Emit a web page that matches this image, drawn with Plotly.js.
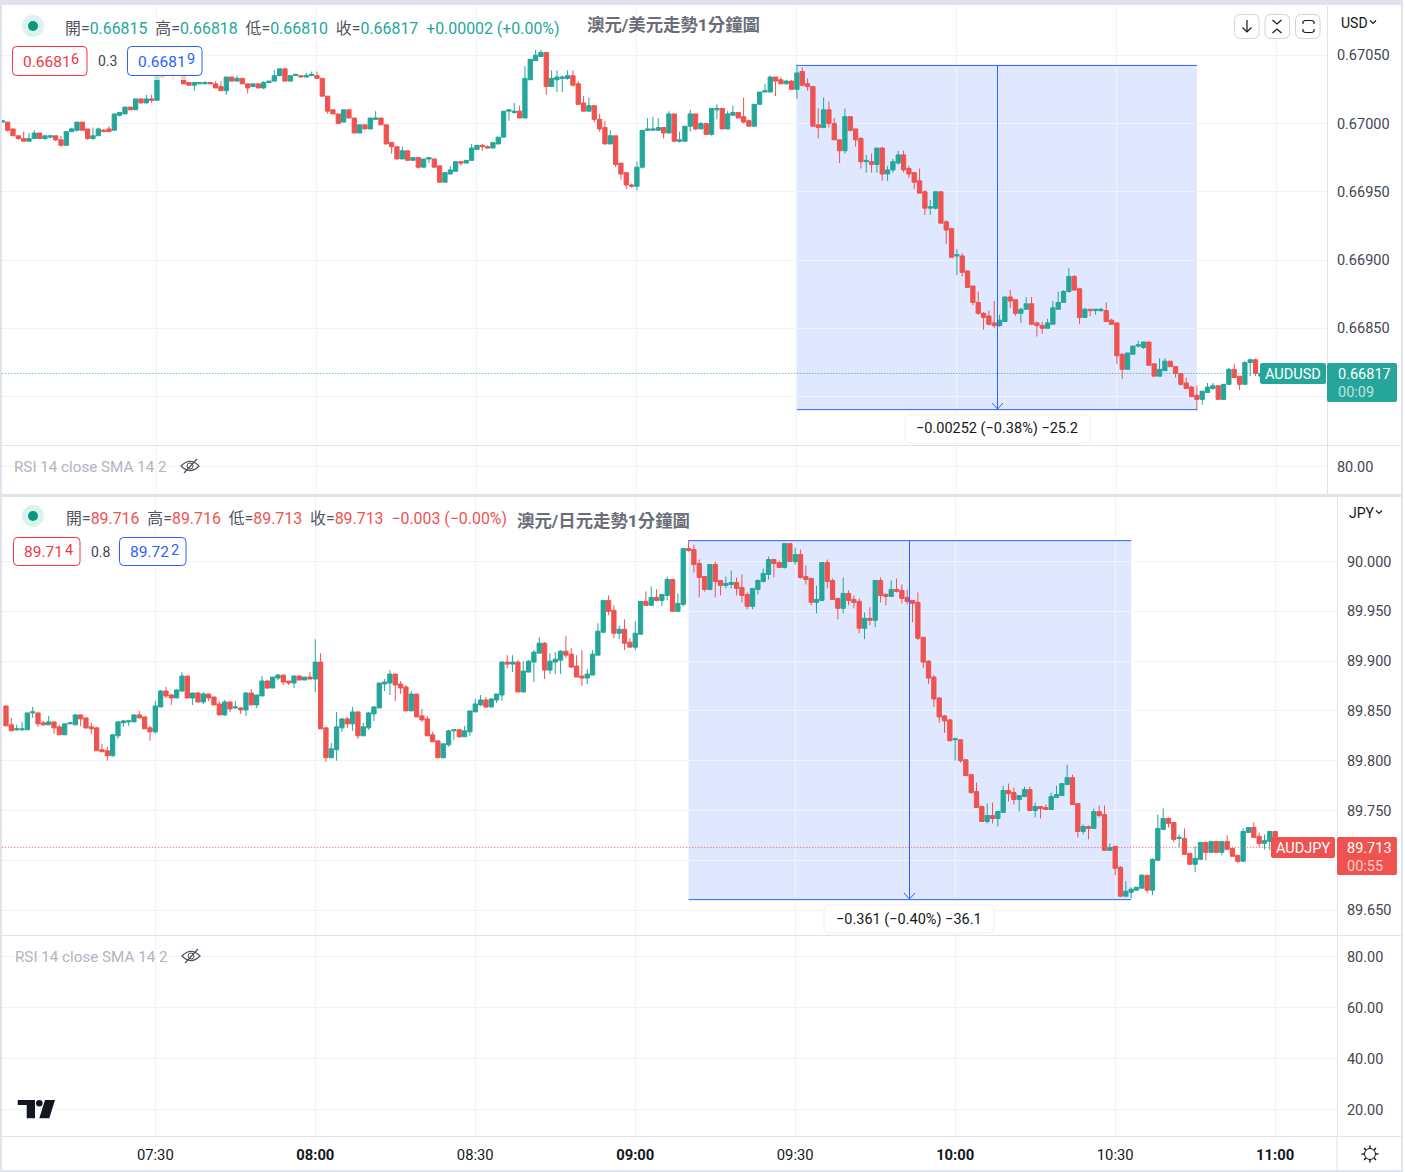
<!DOCTYPE html>
<html>
<head>
<meta charset="utf-8">
<script src="https://cdn.plot.ly/plotly-3.0.1.min.js"></script>
<style>
  html, body { margin: 0; padding: 0; background: #fff; }
  #chart { width: 1405px; height: 1172px; }
</style>
</head>
<body>
<div id="chart"></div>
<script>
// AUD/USD 1 min candles, 07:01 onwards. Values are points above 0.66000
const audusdStart = 421;
const audusdOpen = [
  1001,1001,996,991,989,987,989,993,989,990,
  991,988,984,994,995,1001,996,989,991,995,
  996,995,1006,1007,1012,1010,1018,1015,1018,1017,
  1036,1036,1036,1036,1036,1030,1028,1029,1029,1030,
  1029,1027,1024,1034,1031,1033,1029,1027,1029,1026,
  1030,1031,1035,1040,1031,1035,1035,1034,1035,1035,
  1033,1020,1010,1007,1001,1010,1004,993,999,996,
  1003,1004,999,986,983,974,980,973,975,968,
  974,974,969,957,963,965,972,971,973,981,
  984,983,982,985,990,1009,1008,1009,1004,1032,
  1046,1049,1052,1027,1032,1033,1033,1035,1029,1015,
  1009,1013,1003,997,985,991,971,964,955,954,
  968,995,995,995,997,993,1007,987,987,998,
  1007,996,1000,992,1010,1011,996,1006,1008,1005,
  1002,998,1014,1023,1023,1034,1032,1029,1031,1025,
  1038,1029,1027,999,997,1010,1000,988,980,1005,
  996,989,972,972,970,982,963,966,971,977,
  967,964,958,950,938,938,950,928,923,903,
  903,892,881,869,861,859,854,852,855,873,
  871,861,864,868,854,852,850,853,864,869,
  877,888,879,858,864,863,863,863,856,854,
  831,820,831,837,836,840,824,815,819,826,
  822,817,810,807,801,798,803,806,808,798,
  809,820,815,809,825,827,815];
const audusdClose = [
  1002,995,991,989,987,989,993,989,991,991,
  988,984,994,996,1001,995,989,991,996,994,
  994,1007,1008,1012,1010,1018,1015,1018,1017,1035,
  1034,1040,1035,1035,1029,1028,1030,1030,1030,1029,
  1026,1024,1034,1031,1033,1029,1026,1029,1026,1030,
  1031,1035,1040,1031,1035,1036,1034,1035,1036,1033,
  1020,1009,1007,1000,1010,1004,993,999,996,1004,
  1004,999,985,983,974,980,973,975,968,974,
  975,968,957,964,966,972,971,973,982,984,
  983,982,986,990,1009,1010,1009,1004,1033,1047,
  1050,1052,1027,1033,1034,1034,1035,1028,1014,1009,
  1013,1003,996,985,991,970,963,955,954,968,
  995,996,996,997,993,1007,987,988,998,1007,
  996,1000,992,1011,1011,996,1007,1008,1004,1001,
  998,1014,1023,1024,1034,1031,1029,1031,1025,1037,
  1028,1027,998,997,1010,1000,988,980,1005,995,
  988,972,973,970,982,963,966,972,977,966,
  963,957,949,938,939,950,927,922,902,904,
  891,880,869,861,858,853,852,856,873,870,
  861,864,868,853,852,850,854,865,869,877,
  888,878,858,864,863,864,864,855,853,830,
  820,832,837,838,840,823,815,820,826,822,
  817,809,806,800,798,804,807,808,798,809,
  820,814,809,825,827,817,817];
const audusdHigh = [
  1002,1001,996,991,994,993,995,993,991,991,
  991,991,994,997,1001,1001,996,997,997,996,
  998,1007,1008,1012,1012,1018,1018,1021,1021,1037,
  1040,1041,1040,1038,1036,1030,1030,1030,1031,1030,
  1031,1031,1034,1034,1035,1033,1029,1029,1029,1031,
  1031,1039,1040,1040,1035,1036,1035,1037,1038,1038,
  1033,1020,1010,1007,1010,1010,1004,999,999,1004,
  1009,1004,999,986,983,983,980,975,975,974,
  975,974,969,964,969,972,972,973,985,984,
  985,984,986,990,1009,1010,1015,1013,1042,1047,
  1054,1054,1052,1039,1039,1035,1039,1039,1031,1020,
  1019,1013,1007,1002,995,991,971,964,956,972,
  995,1004,1005,1004,997,1009,1007,994,998,1010,
  1007,1001,1000,1011,1014,1011,1009,1013,1008,1019,
  1003,1014,1023,1029,1035,1034,1034,1032,1032,1043,
  1041,1033,1027,1011,1019,1016,1004,988,1011,1005,
  996,990,977,978,982,983,969,974,980,980,
  969,964,967,951,944,950,950,929,923,908,
  905,892,881,877,862,863,870,860,873,878,
  871,865,873,873,855,855,857,870,877,878,
  894,889,879,865,864,864,865,869,857,854,
  832,832,837,841,840,840,824,828,828,826,
  822,817,814,808,808,804,810,810,808,809,
  821,824,815,826,828,828,818];
const audusdLow = [
  1001,994,991,988,987,987,989,989,988,989,
  987,983,984,994,994,995,988,988,991,994,
  994,995,1005,1007,1010,1010,1015,1015,1015,1017,
  1033,1035,1032,1035,1029,1028,1024,1029,1029,1029,
  1026,1024,1021,1031,1031,1029,1022,1027,1026,1025,
  1030,1031,1035,1031,1031,1035,1034,1034,1035,1033,
  1020,1007,1007,1000,1001,1004,993,993,996,996,
  1003,999,985,978,974,974,973,973,967,968,
  971,968,957,957,963,965,969,971,973,981,
  980,982,982,985,990,1002,1007,1004,1004,1032,
  1046,1049,1021,1027,1023,1023,1032,1027,1014,1009,
  1009,1001,994,985,985,968,959,952,953,951,
  967,995,995,995,989,993,987,986,987,994,
  995,996,992,991,1003,996,996,1006,1004,1000,
  998,998,1014,1023,1023,1020,1029,1029,1025,1018,
  1027,1024,998,989,997,997,988,971,978,994,
  983,967,964,964,964,958,958,964,970,964,
  960,952,949,933,933,937,927,912,902,889,
  888,880,867,860,849,852,850,851,855,865,
  859,854,864,853,844,846,850,853,864,869,
  876,878,853,858,859,860,862,855,853,824,
  813,820,831,836,835,823,815,815,819,822,
  814,808,806,800,790,794,803,805,798,798,
  809,814,805,809,815,815,810];

// AUD/JPY 1 min candles, 07:02 onwards. Values are thousandths above 89
const audjpyStart = 422;
const audjpyOpen = [
  855,836,831,831,831,848,848,838,836,839,
  834,826,837,836,846,843,834,833,811,810,
  805,825,838,839,839,846,844,833,829,854,
  870,866,863,870,885,863,868,859,867,864,
  857,846,859,853,853,851,868,856,865,880,
  873,883,886,880,878,885,881,884,882,899,
  833,803,811,833,842,837,849,825,833,847,
  853,877,878,887,877,874,850,867,845,842,
  826,820,803,816,830,831,824,829,849,856,
  861,854,861,866,899,897,899,869,889,899,
  908,918,891,899,901,910,907,895,885,883,
  886,906,929,961,951,928,932,919,914,927,
  960,956,964,961,966,982,950,957,1013,1012,
  998,985,972,997,981,976,977,979,974,967,
  955,972,980,987,1002,999,994,1018,1000,1007,
  985,983,959,961,999,981,963,953,968,962,
  960,933,943,941,981,967,965,972,971,964,
  961,959,924,900,884,863,845,841,821,821,
  801,786,769,754,739,745,742,748,770,768,
  761,764,771,750,754,753,751,763,765,776,
  783,757,729,734,732,749,746,710,714,693,
  664,668,670,672,685,670,700,731,742,738,
  722,722,707,696,701,718,708,719,708,719,
  712,705,699,728,733,724,717,719,729,716];
const audjpyClose = [
  835,830,832,832,848,849,837,836,839,833,
  826,837,838,846,842,833,832,810,809,805,
  826,839,840,840,846,843,832,829,855,870,
  865,863,871,885,863,868,859,867,863,856,
  846,859,852,854,851,868,856,866,880,873,
  884,886,879,878,885,881,884,882,899,832,
  803,812,834,842,837,849,825,834,848,854,
  878,879,887,876,873,850,867,844,841,825,
  819,803,817,830,831,824,830,850,857,861,
  854,862,867,899,897,899,869,890,900,909,
  918,891,900,902,910,906,894,884,883,887,
  907,930,961,950,928,932,918,914,928,960,
  956,964,961,967,982,950,958,1013,1011,997,
  984,972,997,980,976,978,979,973,966,955,
  973,981,988,1002,998,994,1018,1000,1007,984,
  982,959,962,999,980,962,953,968,961,959,
  933,943,941,981,966,965,972,970,963,960,
  958,923,899,883,862,844,840,820,822,800,
  785,768,753,739,745,742,749,770,767,761,
  765,771,750,754,752,751,764,766,777,783,
  756,729,734,732,749,745,710,713,692,664,
  669,671,673,685,670,701,732,742,737,721,
  723,706,696,702,718,708,719,708,719,711,
  704,699,729,733,723,717,720,729,721,713];
const audjpyHigh = [
  855,843,836,839,848,854,848,840,845,839,
  836,837,838,847,846,843,838,834,817,814,
  827,840,841,841,846,850,844,835,860,871,
  874,867,872,889,885,868,869,869,867,864,
  860,861,859,860,854,869,872,866,885,881,
  884,887,886,880,886,886,884,889,922,908,
  833,818,849,843,844,854,849,838,849,855,
  878,882,891,887,880,876,870,867,852,845,
  829,820,817,831,831,832,835,850,862,866,
  864,863,867,900,906,906,901,900,901,911,
  924,919,908,909,911,925,913,906,911,892,
  911,938,961,966,956,936,942,923,940,960,
  970,975,972,967,985,982,968,1013,1021,1017,
  1002,985,997,1000,981,985,991,984,987,969,
  973,982,993,1005,1003,1001,1018,1018,1014,1012,
  996,983,976,999,1002,983,963,984,971,966,
  963,949,954,981,984,968,981,983,977,972,
  961,969,924,901,886,864,846,842,823,821,
  801,787,778,755,757,758,750,775,777,773,
  765,774,774,758,754,756,768,775,777,796,
  786,757,736,735,752,755,755,717,714,694,
  679,673,673,686,685,702,746,752,743,738,
  726,732,707,714,718,718,719,719,719,725,
  712,705,732,733,738,728,726,729,729,716];
const audjpyLow = [
  835,830,830,830,831,843,834,835,836,827,
  826,826,837,836,835,832,827,810,809,800,
  804,822,834,835,839,843,832,820,827,854,
  863,856,863,869,863,856,859,857,860,856,
  846,845,849,852,847,845,856,853,865,872,
  873,881,876,876,873,881,881,882,869,832,
  799,803,800,829,833,830,822,825,831,840,
  853,870,866,860,867,850,850,844,839,825,
  819,803,803,814,821,823,824,825,849,855,
  853,854,858,860,893,889,869,869,889,879,
  908,882,887,887,887,903,893,884,875,877,
  886,906,928,946,923,922,911,914,911,927,
  956,956,960,955,961,950,950,955,1010,989,
  964,970,971,964,966,973,973,966,959,952,
  952,967,979,982,984,994,993,1000,997,983,
  977,956,948,961,973,962,942,948,956,953,
  928,922,936,934,959,956,965,969,958,957,
  939,921,893,877,854,838,828,820,800,798,
  785,767,753,739,737,737,734,748,759,756,
  749,764,750,743,742,751,751,763,765,776,
  756,723,726,721,732,743,710,710,685,663,
  664,662,670,672,667,665,700,731,733,718,
  713,706,695,688,701,700,708,708,705,711,
  704,697,699,728,723,713,711,710,721,713];

// axis ticks
const timeTicks = [450, 480, 510, 540, 570, 600, 630, 660];
const timeLabels = ['07:30', '<b>08:00</b>', '08:30', '<b>09:00</b>', '09:30', '<b>10:00</b>', '10:30', '<b>11:00</b>'];
const audusdTicks = [0.6705, 0.67, 0.6695, 0.669, 0.6685];
const audusdTickText = ['0.67050', '0.67000', '0.66950', '0.66900', '0.66850'];
const audusdHiddenTicks = [0.668];   // label sits behind the price tag
const audjpyTicks = [90, 89.95, 89.9, 89.85, 89.8, 89.75, 89.65];
const audjpyTickText = ['90.000', '89.950', '89.900', '89.850', '89.800', '89.750', '89.650'];
const audjpyHiddenTicks = [89.7];
const rsiTopTicks = [80];
const rsiBottomTicks = [80, 60, 40, 20];

// measure tools and last prices
const usdMeasure = { t0: 570, t1: 645, tm: 607.61, high: 0.670425, low: 0.667905, last: 0.66817 };
const jpyMeasure = { t0: 550, t1: 633, tm: 591.43, high: 90.021, low: 89.6605, last: 89.713 };

const W = 1405, H = 1172;
const GREEN = '#26a69a', RED = '#ef5350', BLUE = '#2962ff', FRAME = '#e0e3eb', GRID = '#f0f3fa';
const FONT = 'Roboto, "Noto Sans CJK TC", sans-serif';
const X = (p) => p / W;
const Y = (p) => 1 - p / H;
const pt = (x, y) => `${X(x)} ${Y(y)}`;

function fillRect(x0, y0, x1, y1, color) {
  return { type: 'rect', xref: 'paper', yref: 'paper', x0: X(x0), x1: X(x1), y0: Y(y0), y1: Y(y1),
    fillcolor: color, line: { width: 0 }, layer: 'above' };
}
function roundBox(x0, y0, x1, y1, r, fill, stroke, width) {
  const path = `M${pt(x0 + r, y0)} L${pt(x1 - r, y0)} Q${pt(x1, y0)} ${pt(x1, y0 + r)} L${pt(x1, y1 - r)} Q${pt(x1, y1)} ${pt(x1 - r, y1)} ` +
    `L${pt(x0 + r, y1)} Q${pt(x0, y1)} ${pt(x0, y1 - r)} L${pt(x0, y0 + r)} Q${pt(x0, y0)} ${pt(x0 + r, y0)} Z`;
  return { type: 'path', xref: 'paper', yref: 'paper', path, fillcolor: fill,
    line: { color: stroke || fill, width: stroke ? (width || 1) : 0 }, layer: 'above' };
}
function strokePath(points, color, width) {
  const path = points.map((p, i) => (i ? 'L' : 'M') + pt(p[0], p[1])).join(' ');
  return { type: 'path', xref: 'paper', yref: 'paper', path, line: { color, width: width || 1 }, layer: 'above' };
}
function circle(cx, cy, r, fill, stroke) {
  return { type: 'circle', xref: 'paper', yref: 'paper', x0: X(cx - r), x1: X(cx + r), y0: Y(cy + r), y1: Y(cy - r),
    fillcolor: fill, line: { color: stroke || fill, width: stroke ? 1 : 0 }, layer: 'above' };
}
function label(x, y, text, size, color, anchor) {
  return { xref: 'paper', yref: 'paper', x: X(x), y: Y(y), text, showarrow: false, borderpad: 0,
    xanchor: anchor || 'left', yanchor: 'middle', font: { family: FONT, size, color } };
}
const tint = (c, s) => `<span style="color:${c}">${s}</span>`;

function legendLine(x, y, vals, color) {
  const gap = '\u00a0\u00a0';
  const names = ['開', '高', '低', '收'];
  const parts = names.map((n, i) => `${n}=${tint(color, vals[i])}`).join(gap);
  return label(x, y, parts + gap + tint(color, vals[4]), 15.9, '#50535e');
}

function measureShapes(xa, ya, m) {
  const lineOf = (x0, y0, x1, y1) => ({ type: 'line', xref: xa, yref: ya, x0, x1, y0, y1,
    line: { color: BLUE, width: 1 }, layer: 'above' });
  return [
    { type: 'rect', xref: xa, yref: ya, x0: m.t0, x1: m.t1, y0: m.low, y1: m.high,
      fillcolor: 'rgba(41,98,255,0.15)', line: { width: 0 }, layer: 'below' },
    lineOf(m.t0, m.high, m.t1, m.high),
    lineOf(m.t0, m.low, m.t1, m.low),
    lineOf(m.tm, m.low, m.tm, m.high),
  ];
}
function lastLine(xa, ya, t0, t1, price, color) {
  return { type: 'line', xref: xa, yref: ya, x0: t0, x1: t1, y0: price, y1: price,
    line: { color, width: 1, dash: '1px,2px' }, layer: 'above' };
}
function eyeOff(cx, cy) {
  const c = '#50535e';
  return [
    { type: 'path', xref: 'paper', yref: 'paper', layer: 'above', line: { color: c, width: 1.2 },
      path: `M${pt(cx - 9, cy)} Q${pt(cx, cy - 9)} ${pt(cx + 9, cy)} Q${pt(cx, cy + 9)} ${pt(cx - 9, cy)} Z` },
    circle(cx, cy, 3, 'rgba(255,255,255,0)', c),
    strokePath([[cx - 6, cy + 7], [cx + 7, cy - 7]], c, 1.2),
  ];
}
function gearIcon(cx, cy) {
  const c = '#131722';
  const rays = [[1, 0], [0.7, 0.7], [0, 1], [-0.7, 0.7], [-1, 0], [-0.7, -0.7], [0, -1], [0.7, -0.7]];
  return [circle(cx, cy, 5.5, 'rgba(255,255,255,0)', c)].concat(
    rays.map((r) => strokePath([[cx + r[0] * 5.5, cy + r[1] * 5.5], [cx + r[0] * 8.5, cy + r[1] * 8.5]], c, 1.4)));
}
function tvLogo() {
  const c = '#131722';
  const solid = (points) => ({ type: 'path', xref: 'paper', yref: 'paper', layer: 'above', fillcolor: c, line: { width: 0 },
    path: points.map((p, i) => (i ? 'L' : 'M') + pt(p[0], p[1])).join(' ') + ' Z' });
  return [
    solid([[17.7, 1100], [35, 1100], [35, 1118.3], [26.7, 1118.3], [26.7, 1105], [17.7, 1105]]),
    circle(39.3, 1103.3, 3.3, c),
    solid([[45, 1100], [55, 1100], [49.3, 1118.3], [39.3, 1118.3]]),
  ];
}
function topButtons() {
  const c = '#131722', b = '#d1d4dc';
  return [
    roundBox(1234.5, 14.5, 1259, 38.5, 6, '#fff', b),
    roundBox(1265, 14.5, 1289.5, 38.5, 6, '#fff', b),
    roundBox(1295.5, 14.5, 1320, 38.5, 6, '#fff', b),
    strokePath([[1247, 20], [1247, 32]], c, 1.2),
    strokePath([[1242.5, 27.5], [1247, 32], [1251.5, 27.5]], c, 1.2),
    strokePath([[1272.5, 20], [1277, 24], [1281.5, 20]], c, 1.2),
    strokePath([[1272.5, 33], [1277, 29], [1281.5, 33]], c, 1.2),
    strokePath([[1303, 24], [1303, 21.5], [1305, 20.5], [1312, 20.5], [1314, 21.5], [1314, 24]], c, 1.2),
    strokePath([[1303, 29], [1303, 31.5], [1305, 32.5], [1312, 32.5], [1314, 31.5], [1314, 29]], c, 1.2),
  ];
}
function chevron(x, y) {
  return strokePath([[x - 3, y - 1.5], [x, y + 1.5], [x + 3, y - 1.5]], '#131722', 1.1);
}
function candles(start, o, h, l, c, base, scale, xa, ya) {
  return {
    type: 'candlestick', xaxis: xa, yaxis: ya, hoverinfo: 'skip', showlegend: false,
    x: o.map((_, i) => start + i),
    open: o.map((v) => base + v / scale), high: h.map((v) => base + v / scale),
    low: l.map((v) => base + v / scale), close: c.map((v) => base + v / scale),
    whiskerwidth: 0,
    increasing: { line: { color: GREEN, width: 1 }, fillcolor: GREEN },
    decreasing: { line: { color: RED, width: 1 }, fillcolor: RED },
  };
}
// keeps the empty RSI panes alive so their grids are drawn
function emptyPane(xa, ya, t) {
  return { type: 'scatter', mode: 'markers', xaxis: xa, yaxis: ya, x: [t], y: [50], hoverinfo: 'skip',
    showlegend: false, marker: { size: 1, opacity: 0 } };
}
function priceAxis(y0, y1, range, ticks, text, anchor, hidden) {
  const axis = {
    domain: [Y(y1), Y(y0)], range, anchor, side: 'right', tickmode: 'array', tickvals: ticks, ticktext: text,
    ticks: '', ticklabelstandoff: 6, gridcolor: GRID, gridwidth: 1, zeroline: false, fixedrange: true,
    showline: true, linecolor: FRAME, linewidth: 1, tickfont: { family: FONT, size: 14.5, color: '#434651' },
  };
  if (hidden) axis.minor = { tickmode: 'array', tickvals: hidden, showgrid: true, gridcolor: GRID, gridwidth: 1, ticks: '' };
  return axis;
}
function timeAxis(x0, x1, range, anchor, showLabels) {
  return {
    domain: [X(x0), X(x1)], range, anchor, tickmode: 'array', tickvals: timeTicks, ticktext: timeLabels,
    showticklabels: showLabels, ticks: '', ticklabelstandoff: 8, gridcolor: GRID, gridwidth: 1, zeroline: false,
    fixedrange: true, rangeslider: { visible: false }, showline: false,
    tickfont: { family: FONT, size: 14.8, color: '#131722' },
  };
}

const traces = [
  candles(audusdStart, audusdOpen, audusdHigh, audusdLow, audusdClose, 0.66, 1e5, 'x', 'y'),
  emptyPane('x', 'y2', 450),
  candles(audjpyStart, audjpyOpen, audjpyHigh, audjpyLow, audjpyClose, 89, 1e3, 'x2', 'y3'),
  emptyPane('x2', 'y4', 450),
];

const shapes = [].concat(
  measureShapes('x', 'y', usdMeasure),
  measureShapes('x2', 'y3', jpyMeasure),
  [
    strokePath([[992, 403], [997.5, 409], [1003, 403]], BLUE),
    strokePath([[904, 893], [909.5, 899], [915, 893]], BLUE),
    lastLine('x', 'y', 421, 669, usdMeasure.last, GREEN),
    lastLine('x2', 'y3', 421.3, 671, jpyMeasure.last, RED),
    // pane borders and page frame
    fillRect(0, 0, 1402, 5, FRAME),
    fillRect(0, 0, 2, 1172, FRAME),
    fillRect(0, 494, 1402, 497, FRAME),
    fillRect(1401, 0, 1403, 1172, FRAME),
    fillRect(0, 1170, 1403, 1172, FRAME),
    fillRect(2, 445, 1402, 446, FRAME),
    fillRect(2, 935, 1402, 936, FRAME),
    fillRect(2, 1136, 1402, 1137, FRAME),
    fillRect(1336.5, 1136, 1337.5, 1170, FRAME),
    // measure tooltips
    roundBox(905, 415, 1090, 443, 5, '#fff', '#eceef3'),
    roundBox(824, 905, 994, 933, 5, '#fff', '#eceef3'),
    // price tags
    roundBox(1260, 363, 1326, 384, 2, GREEN),
    roundBox(1327, 363, 1397, 402, 2, GREEN),
    roundBox(1271, 837, 1335, 858, 2, RED),
    roundBox(1337, 837, 1397, 875, 2, RED),
    // legend backing and bid / ask boxes
    fillRect(10, 44, 205, 80, 'rgba(255,255,255,0.7)'),
    fillRect(10, 535, 190, 568, 'rgba(255,255,255,0.7)'),
    roundBox(12.5, 46.5, 87, 75.5, 4, 'rgba(255,255,255,0.85)', '#f23645'),
    roundBox(127.5, 46.5, 202, 75.5, 4, 'rgba(255,255,255,0.85)', BLUE),
    roundBox(13.5, 537.5, 80, 565.5, 4, 'rgba(255,255,255,0.85)', '#f23645'),
    roundBox(119.5, 537.5, 186, 565.5, 4, 'rgba(255,255,255,0.85)', BLUE),
    // status dots
    circle(33, 26, 11, '#dcf2ee'),
    circle(33, 26, 5, '#089981'),
    circle(33, 516, 11, '#dcf2ee'),
    circle(33, 516, 5, '#089981'),
    chevron(1373, 22),
    chevron(1379, 512),
  ],
  eyeOff(190, 466),
  eyeOff(191, 956),
  gearIcon(1370, 1154),
  tvLogo(),
  topButtons()
);

const annotations = [
  legendLine(64, 28.5, ['0.66815', '0.66818', '0.66810', '0.66817', '+0.00002 (+0.00%)'], GREEN),
  label(586, 24.5, '<b>澳元/美元走勢1分鐘圖</b>', 17.4, '#6a6d78'),
  label(22, 62, '0.6681', 15.5, '#f23645'),
  label(69.5, 60, '6', 14.5, '#f23645'),
  label(97, 61.5, '0.3', 14, '#434651'),
  label(137, 62, '0.6681', 15.5, BLUE),
  label(185.5, 60, '9', 14.5, BLUE),
  legendLine(65, 518.5, ['89.716', '89.716', '89.713', '89.713', '\u22120.003 (\u22120.00%)'], RED),
  label(516, 520.5, '<b>澳元/日元走勢1分鐘圖</b>', 17.4, '#6a6d78'),
  label(23, 552, '89.71', 15.5, '#f23645'),
  label(63.5, 550, '4', 14.5, '#f23645'),
  label(90, 551.5, '0.8', 14, '#434651'),
  label(129, 552, '89.72', 15.5, BLUE),
  label(169.5, 550, '2', 14.5, BLUE),
  label(13, 466.5, 'RSI 14 close SMA 14 2', 15.2, '#b2b5be'),
  label(14, 956.5, 'RSI 14 close SMA 14 2', 15.2, '#b2b5be'),
  label(997, 428.5, '\u22120.00252 (\u22120.38%) \u221225.2', 14.5, '#131722', 'center'),
  label(909, 919.5, '\u22120.361 (\u22120.40%) \u221236.1', 14.5, '#131722', 'center'),
  label(1340, 23, 'USD', 14, '#131722'),
  label(1348, 513, 'JPY', 14, '#131722'),
  label(1293, 374.5, 'AUDUSD', 14.5, '#ffffff', 'center'),
  label(1337, 374.5, '0.66817', 14.5, '#ffffff'),
  label(1337, 392.5, '00:09', 14.5, 'rgba(255,255,255,0.7)'),
  label(1303, 848.5, 'AUDJPY', 14.5, '#ffffff', 'center'),
  label(1346, 848.5, '89.713', 14.5, '#ffffff'),
  label(1346, 866.5, '00:55', 14.5, 'rgba(255,255,255,0.7)'),
];

const layout = {
  width: W, height: H, margin: { l: 0, r: 0, t: 0, b: 0, pad: 0 },
  paper_bgcolor: '#ffffff', plot_bgcolor: '#ffffff', showlegend: false, hovermode: false,
  boxgap: 0.2, boxgroupgap: 0,
  font: { family: FONT },
  xaxis: timeAxis(2, 1327, [420.94, 669.4], 'y', false),
  xaxis2: timeAxis(2, 1337, [421.25, 671.6], 'y4', true),
  yaxis: priceAxis(6, 445, [0.667646, 0.67086], audusdTicks, audusdTickText, 'x', audusdHiddenTicks),
  yaxis2: priceAxis(446, 494, [69, 88.2], rsiTopTicks, ['80.00'], 'x'),
  yaxis3: priceAxis(497, 935, [89.625, 90.0648], audjpyTicks, audjpyTickText, 'x2', audjpyHiddenTicks),
  yaxis4: priceAxis(936, 1136, [9.8, 88.2], rsiBottomTicks, ['80.00', '60.00', '40.00', '20.00'], 'x2'),
  shapes, annotations,
};

Plotly.newPlot('chart', traces, layout, { displayModeBar: false, staticPlot: true });
</script>
</body>
</html>
